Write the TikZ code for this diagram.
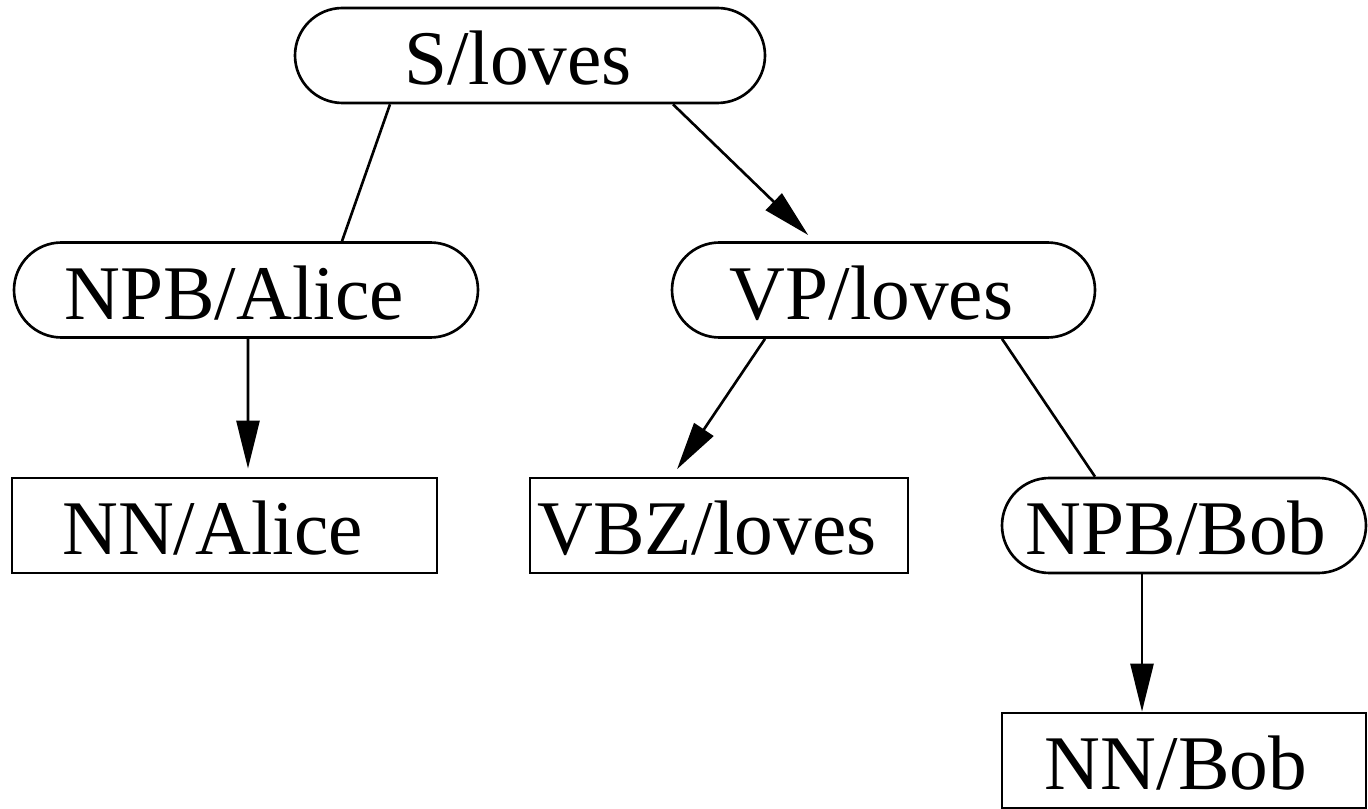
\documentclass[tikz,border=0pt]{standalone}
\usepackage{fontspec}
\newfontfamily\treefont{Liberation Serif}
\usetikzlibrary{arrows.meta}
\begin{document}
\begin{tikzpicture}[font=\fontsize{22}{26}\selectfont,
    roundbox/.style={draw, line width=0.75pt, minimum height=0.95cm, rounded corners=0.475cm, inner sep=0pt},
    plainbox/.style={draw, line width=0.75pt, minimum height=0.95cm, inner sep=0pt},
    word/.style={anchor=base, inner sep=0pt},
    edge/.style={line width=0.75pt},
    arrowedge/.style={line width=0.75pt, -{Triangle[length=0.48cm, width=0.23cm]}}
  ]
  \useasboundingbox (0,0) rectangle (13.68,8.08);
  % tree nodes
  \node[roundbox, minimum width=4.70cm] (sloves) at (5.30,7.525) {};
  \node[roundbox, minimum width=4.64cm] (npbalice) at (2.46,5.18) {};
  \node[roundbox, minimum width=4.23cm] (vploves) at (8.835,5.18) {};
  \node[plainbox, minimum width=4.25cm] (nnalice) at (2.245,2.825) {};
  \node[plainbox, minimum width=3.78cm] (vbzloves) at (7.19,2.825) {};
  \node[roundbox, minimum width=3.64cm] (npbbob) at (11.84,2.825) {};
  \node[plainbox, minimum width=3.64cm] (nnbob) at (11.84,0.475) {};
  % labels
  \node[word] (slovestxt) at ([xshift=-0.12cm, yshift=-0.295cm]sloves.center) {\treefont S/loves};
  \node[word] (npbalicetxt) at ([xshift=-0.12cm, yshift=-0.295cm]npbalice.center) {\treefont NPB/Alice};
  \node[word] (vplovestxt) at ([xshift=-0.12cm, yshift=-0.295cm]vploves.center) {\treefont VP/loves};
  \node[word] (nnalicetxt) at ([xshift=-0.12cm, yshift=-0.295cm]nnalice.center) {\treefont NN/Alice};
  \node[word] (vbzlovestxt) at ([xshift=-0.12cm, yshift=-0.295cm]vbzloves.center) {\treefont VBZ/loves};
  \node[word] (npbbobtxt) at ([xshift=-0.08cm, yshift=-0.295cm]npbbob.center) {\treefont NPB/Bob};
  \node[word] (nnbobtxt) at ([xshift=-0.08cm, yshift=-0.295cm]nnbob.center) {\treefont NN/Bob};
  % connectors
  \draw[edge] ([xshift=-1.40cm]sloves.south) -- ([xshift=0.96cm]npbalice.north);
  \draw[arrowedge, shorten >=2.5pt] ([xshift=1.43cm]sloves.south) -- ([xshift=-0.69cm]vploves.north);
  \draw[arrowedge, shorten >=0.08cm] ([xshift=0.02cm]npbalice.south) -- ([xshift=0.235cm]nnalice.north);
  \draw[arrowedge, shorten >=0.09cm] ([xshift=-1.185cm]vploves.south) -- ([xshift=-0.47cm]vbzloves.north);
  \draw[edge] ([xshift=1.185cm]vploves.south) -- ([xshift=-0.89cm]npbbob.north);
  \draw[arrowedge] ([xshift=-0.42cm]npbbob.south) -- ([xshift=-0.42cm]nnbob.north);
\end{tikzpicture}
\end{document}
